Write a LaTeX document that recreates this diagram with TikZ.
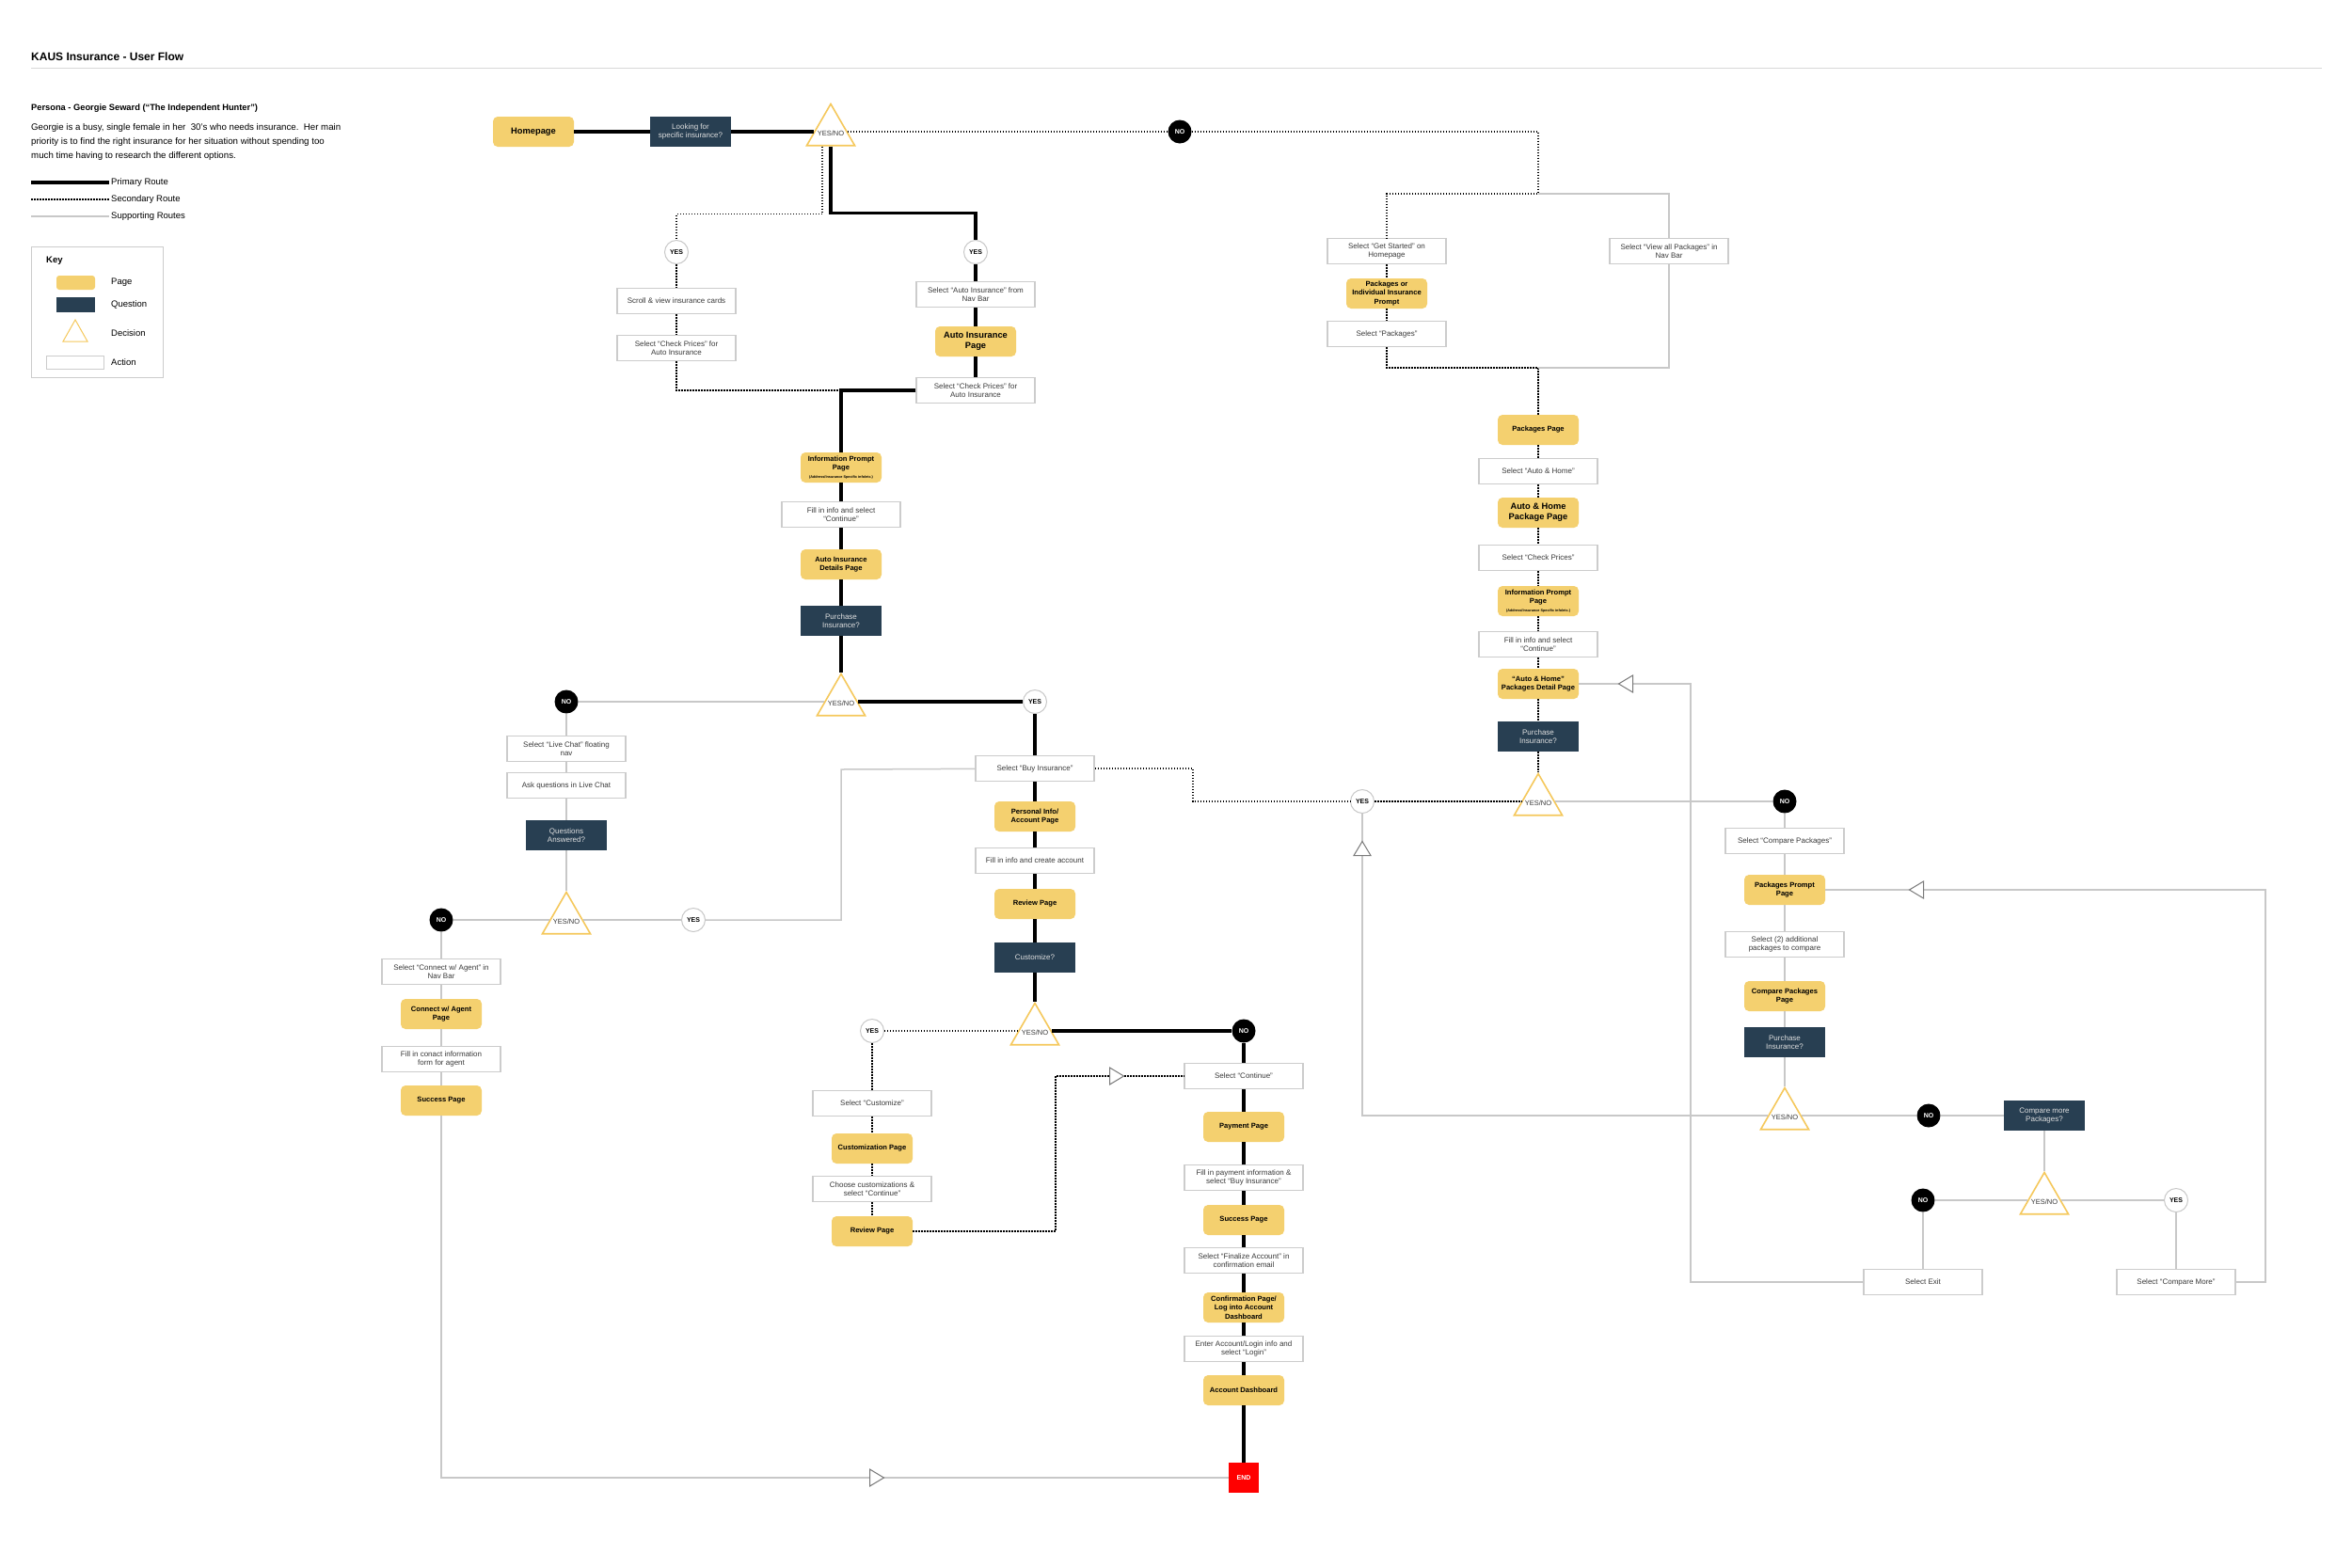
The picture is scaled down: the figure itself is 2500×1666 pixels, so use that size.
\documentclass[tikz,border=0pt]{standalone}
\usepackage{fontspec}
\setmainfont{Liberation Sans}
\usetikzlibrary{shapes.geometric,positioning}

\definecolor{pageyellow}{HTML}{F4D06F}
\definecolor{questblue}{HTML}{283F52}
\definecolor{decideyellow}{HTML}{F5C85C}
\definecolor{linegray}{HTML}{C8C8C8}
\definecolor{boxgray}{HTML}{CCCCCC}
\definecolor{textgray}{HTML}{3A3A3A}
\definecolor{markgray}{HTML}{7A7A7A}
\definecolor{endred}{HTML}{FF0000}

\tikzset{
  pagebox/.style={rectangle, rounded corners=5pt, fill=pageyellow, minimum width=86pt, minimum height=32pt,
    inner sep=1pt, align=center, font=\fontsize{7.6}{9.3}\selectfont\bfseries},
  bigpage/.style={pagebox, font=\fontsize{9.3}{11}\selectfont\bfseries},
  questbox/.style={rectangle, fill=questblue, text=white!88!black, minimum width=86pt, minimum height=32pt,
    inner sep=1pt, align=center, font=\fontsize{8}{9.7}\selectfont},
  actbox/.style={rectangle, draw=boxgray, line width=1.5pt, fill=white, minimum width=126pt, minimum height=27pt,
    inner sep=1pt, align=center, text=textgray, font=\fontsize{8}{9.6}\selectfont},
  yesdot/.style={circle, draw=linegray, line width=1pt, fill=white, minimum size=25pt, inner sep=0pt,
    font=\fontsize{7}{7}\selectfont\bfseries},
  nodot/.style={circle, fill=black, text=white, minimum size=25pt, inner sep=0pt,
    font=\fontsize{7}{7}\selectfont\bfseries},
  decision/.style={regular polygon, regular polygon sides=3, draw=decideyellow, line width=1.6pt, fill=white,
    minimum size=59pt, inner sep=0pt,
    label={[font=\fontsize{7.5}{7.5}\selectfont, text=textgray, yshift=-2pt]center:YES/NO}},
  endbox/.style={rectangle, fill=endred, text=white, minimum size=32pt, inner sep=0pt,
    font=\fontsize{7}{7}\selectfont\bfseries},
  legendtext/.style={anchor=west, inner sep=2pt, font=\fontsize{9.5}{11}\selectfont},
  primroute/.style={line width=3.5pt, black},
  secroute/.style={line width=1.2pt, black, dash pattern=on 1.5pt off 1.5pt},
  suproute/.style={line width=1.5pt, linegray},
  flowmark/.pic={\filldraw[fill=white, draw=markgray, line width=1pt] (-7.5,-9) -- (7.5,0) -- (-7.5,9) -- cycle;},
}

\begin{document}
\begin{tikzpicture}[x=1pt,y=-1pt]
\fill[white] (0,0) rectangle (2500,1666);
\useasboundingbox (0,0) rectangle (2500,1666);

% header and persona
\node[anchor=west, inner sep=2pt, font=\fontsize{12}{14}\selectfont\bfseries] (title) at (31,60) {KAUS Insurance - User Flow};
\draw[linegray!70, line width=1pt] (33,72) -- (2468,72);
\node[anchor=west, inner sep=2pt, font=\fontsize{9.3}{11}\selectfont\bfseries] (persona) at (31,115)
  {Persona - Georgie Seward (“The Independent Hunter”)};
\node[anchor=west, inner sep=2pt, align=left, font=\fontsize{9.7}{15}\selectfont] (story) at (31,151)
  {Georgie is a busy, single female in her\ \ 30’s who needs insurance.\ \ Her main\\
   priority is to find the right insurance for her situation without spending too\\
   much time having to research the different options.};

% route legend
\node[legendtext] (lprim) at (116,194) {Primary Route};
\node[legendtext] (lsec) at (116,212) {Secondary Route};
\node[legendtext] (lsup) at (116,230) {Supporting Routes};
\draw[line width=4pt] (33,194) -- (lprim.west);
\draw[secroute] (33,212) -- (lsec.west);
\draw[suproute] (33,230) -- (lsup.west);

% key
\draw[boxgray, line width=1pt] (33,262) rectangle (173,401);
\node[legendtext, font=\fontsize{9.5}{11}\selectfont\bfseries] (keyhead) at (47,277) {Key};
\fill[pageyellow, rounded corners=3pt] (60,293) rectangle (101,308);
\fill[questblue] (60,316) rectangle (101,332);
\draw[decideyellow, line width=1pt] (67,363) -- (80,340) -- (93,363) -- cycle;
\draw[boxgray, line width=1pt] (49,378) rectangle (110,392);
\node[legendtext] (kpage) at (116,300) {Page};
\node[legendtext] (kquest) at (116,324) {Question};
\node[legendtext] (kdecide) at (116,354) {Decision};
\node[legendtext] (kaction) at (116,385) {Action};

% top row
\node[bigpage] (home) at (567,140) {Homepage};
\node[questbox] (q1) at (734,140) {Looking for\\specific insurance?};
\node[decision] (dec1) at (883,140) {};
\node[nodot] (no1) at (1254,140) {NO};

% auto insurance branch
\node[yesdot] (yes1) at (719,268) {YES};
\node[actbox] (scroll) at (719,320) {Scroll \& view insurance cards};
\node[actbox] (checkp1) at (719,370) {Select “Check Prices” for\\Auto Insurance};
\node[yesdot] (yes2) at (1037,268) {YES};
\node[actbox] (navauto) at (1037,313) {Select “Auto Insurance” from\\Nav Bar};
\node[bigpage] (autopage) at (1037,363) {Auto Insurance\\Page};
\node[actbox] (checkp2) at (1037,415) {Select “Check Prices” for\\Auto Insurance};
\coordinate (jauto) at (894,415);

\node[pagebox] (info) at (894,497) {Information Prompt\\Page\\[-1pt]{\fontsize{3.8}{4}\selectfont (Address/Insurance Specific info/etc.)}};
\node[actbox] (fill1) at (894,547) {Fill in info and select\\“Continue”};
\node[pagebox] (details) at (894,600) {Auto Insurance\\Details Page};
\node[questbox] (purchase1) at (894,660) {Purchase\\Insurance?};
\node[decision] (dec2) at (894,746) {};
\node[yesdot] (yes3) at (1100,746) {YES};
\node[nodot] (no2) at (602,746) {NO};

% live chat and agent
\node[actbox] (livechat) at (602,796) {Select “Live Chat” floating\\nav};
\node[actbox] (ask) at (602,835) {Ask questions in Live Chat};
\node[questbox] (qans) at (602,888) {Questions\\Answered?};
\node[decision] (dec3) at (602,978) {};
\node[nodot] (no3) at (469,978) {NO};
\node[yesdot] (yes6) at (737,978) {YES};
\coordinate (jbuy) at (894,818);
\node[actbox] (selagent) at (469,1033) {Select “Connect w/ Agent” in\\Nav Bar};
\node[pagebox] (agentpage) at (469,1078) {Connect w/ Agent\\Page};
\node[actbox] (fillagent) at (469,1126) {Fill in conact information\\form for agent};
\node[pagebox] (success2) at (469,1170) {Success Page};

% purchase column
\node[actbox] (buy) at (1100,817) {Select “Buy Insurance”};
\coordinate (bend3) at (1268,852);
\node[pagebox] (personal) at (1100,868) {Personal Info/\\Account Page};
\node[actbox] (fill2) at (1100,915) {Fill in info and create account};
\node[pagebox] (review) at (1100,961) {Review Page};
\node[questbox] (customize) at (1100,1018) {Customize?};
\node[decision] (dec4) at (1100,1096) {};
\node[yesdot] (yes5) at (927,1096) {YES};
\node[nodot] (no4) at (1322,1096) {NO};

\node[actbox] (selcust) at (927,1173) {Select “Customize”};
\node[pagebox] (custpage) at (927,1221) {Customization Page};
\node[actbox] (choose) at (927,1264) {Choose customizations \&\\select “Continue”};
\node[pagebox] (review2) at (927,1309) {Review Page};
\coordinate (bend6) at (1122,1144);

\node[actbox] (continue) at (1322,1144) {Select “Continue”};
\node[pagebox] (payment) at (1322,1198) {Payment Page};
\node[actbox] (fill3) at (1322,1252) {Fill in payment information \&\\select “Buy Insurance”};
\node[pagebox] (success) at (1322,1297) {Success Page};
\node[actbox] (finalize) at (1322,1340) {Select “Finalize Account” in\\confirmation email};
\node[pagebox] (confirm) at (1322,1390) {Confirmation Page/\\Log into Account\\Dashboard};
\node[actbox] (enter) at (1322,1434) {Enter Account/Login info and\\select “Login”};
\node[pagebox] (dashboard) at (1322,1478) {Account Dashboard};
\node[endbox] (endbox) at (1322,1571) {END};

% packages branch
\coordinate (split1) at (1635,206);
\node[actbox] (getstarted) at (1474,267) {Select “Get Started” on\\Homepage};
\node[pagebox] (prompt) at (1474,312) {Packages or\\Individual Insurance\\Prompt};
\node[actbox] (selpack) at (1474,355) {Select “Packages”};
\node[actbox] (viewall) at (1774,267) {Select “View all Packages” in\\Nav Bar};
\coordinate (merge1) at (1635,391);
\node[pagebox] (packpage) at (1635,457) {Packages Page};
\node[actbox] (selah) at (1635,501) {Select “Auto \& Home”};
\node[bigpage] (ahpage) at (1635,545) {Auto \& Home\\Package Page};
\node[actbox] (selcp) at (1635,593) {Select “Check Prices”};
\node[pagebox] (info2) at (1635,639) {Information Prompt\\Page\\[-1pt]{\fontsize{3.8}{4}\selectfont (Address/Insurance Specific info/etc.)}};
\node[actbox] (fill4) at (1635,685) {Fill in info and select\\“Continue”};
\node[pagebox] (detail2) at (1635,727) {“Auto \& Home”\\Packages Detail Page};
\node[questbox] (purchase2) at (1635,783) {Purchase\\Insurance?};
\node[decision] (dec5) at (1635,852) {};
\node[yesdot] (yes4) at (1448,852) {YES};
\node[nodot] (no5) at (1897,852) {NO};
\coordinate (bend4) at (1797,727);

% compare branch
\node[actbox] (cmppack) at (1897,894) {Select “Compare Packages”};
\node[pagebox] (pkgprompt) at (1897,946) {Packages Prompt\\Page};
\node[actbox] (sel2) at (1897,1004) {Select (2) additional\\packages to compare};
\node[pagebox] (cmppage) at (1897,1059) {Compare Packages\\Page};
\node[questbox] (purchase3) at (1897,1108) {Purchase\\Insurance?};
\node[decision] (dec6) at (1897,1186) {};
\node[nodot] (no6) at (2050,1186) {NO};
\node[questbox] (cmpmore) at (2173,1186) {Compare more\\Packages?};
\node[decision] (dec7) at (2173,1276) {};
\node[nodot] (no7) at (2044,1276) {NO};
\node[yesdot] (yes7) at (2313,1276) {YES};
\node[actbox] (selexit) at (2044,1363) {Select Exit};
\node[actbox] (selmore) at (2313,1363) {Select “Compare More”};
\coordinate (bend5) at (2408,946);

% primary route
\draw[primroute] (home) -- (q1) -- (dec1);
\draw[primroute] (dec1.side 2) -- ++(0,71) -| (yes2);
\draw[primroute] (yes2) -- (navauto) -- (autopage) -- (checkp2);
\draw[primroute] (checkp2) -| (info);
\draw[primroute] (info) -- (fill1) -- (details) -- (purchase1) -- (dec2) -- (yes3) -- (buy) -- (personal)
  -- (fill2) -- (review) -- (customize) -- (dec4) -- (no4) -- (continue) -- (payment) -- (fill3)
  -- (success) -- (finalize) -- (confirm) -- (enter) -- (dashboard) -- (endbox);

% secondary route
\draw[secroute] (dec1) -- (no1);
\draw[secroute] (no1) -| (split1) -| (getstarted);
\draw[secroute] (getstarted) -- (prompt) -- (selpack);
\draw[secroute] (selpack) |- (merge1) -- (packpage);
\draw[secroute] (packpage) -- (selah) -- (ahpage) -- (selcp) -- (info2) -- (fill4) -- (detail2)
  -- (purchase2) -- (dec5);
\draw[secroute] ([xshift=-9pt]dec1.side 2) -- ++(0,72) -| (yes1);
\draw[secroute] (yes1) -- (scroll) -- (checkp1);
\draw[secroute] (checkp1) |- (jauto);
\draw[secroute] (buy) -| (bend3) -- (yes4) -- (dec5);
\draw[secroute] (dec4) -- (yes5) -- (selcust) -- (custpage) -- (choose) -- (review2);
\draw[secroute] (review2) -| (bend6) -- (continue);

% supporting routes
\draw[suproute] (split1) -| (viewall);
\draw[suproute] (viewall) |- (merge1);
\draw[suproute] (dec2) -- (no2) -- (livechat) -- (ask) -- (qans) -- (dec3);
\draw[suproute] (no3) -- (dec3) -- (yes6);
\draw[suproute] (yes6) -| (jbuy) -- (buy);
\draw[suproute] (no3) -- (selagent) -- (agentpage) -- (fillagent) -- (success2);
\draw[suproute] (success2) |- (endbox);
\draw[suproute] (dec5) -- (no5) -- (cmppack) -- (pkgprompt) -- (sel2) -- (cmppage) -- (purchase3) -- (dec6);
\draw[suproute] (dec6) -| (yes4);
\draw[suproute] (dec6) -- (no6) -- (cmpmore) -- (dec7);
\draw[suproute] (no7) -- (dec7) -- (yes7);
\draw[suproute] (no7) -- (selexit);
\draw[suproute] (yes7) -- (selmore);
\draw[suproute] (selexit) -| (bend4) -- (detail2);
\draw[suproute] (selmore) -| (bend5) -- (pkgprompt);

% direction marks
\pic[rotate=180] at (1728,727) {flowmark};
\pic[rotate=180] at (2037,946) {flowmark};
\pic[rotate=90] at (1448,902) {flowmark};
\pic at (1187,1144) {flowmark};
\pic at (932,1571) {flowmark};
\end{tikzpicture}
\end{document}
